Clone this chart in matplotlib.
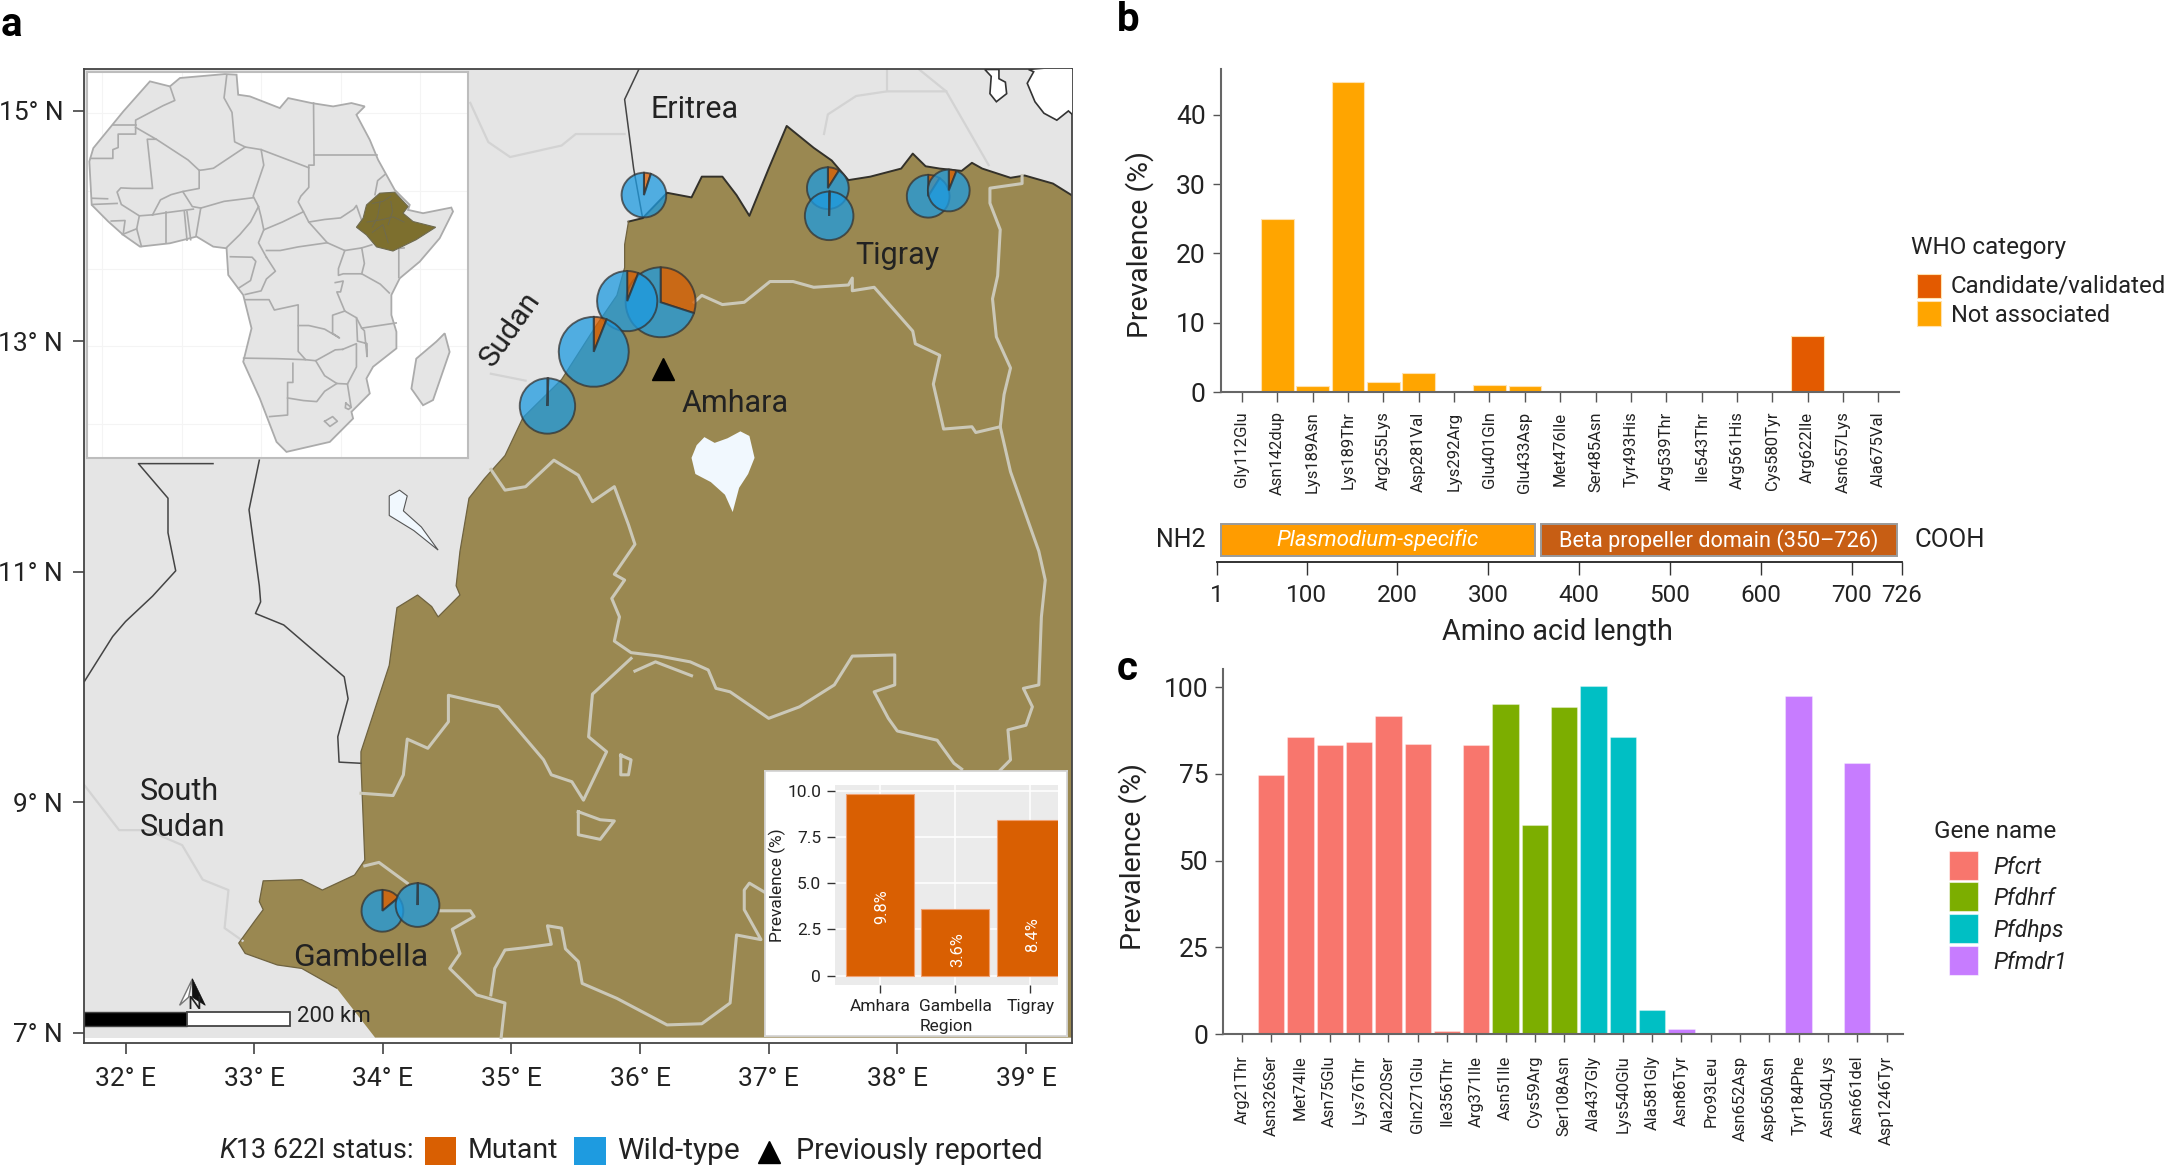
import matplotlib
matplotlib.use("Agg")
import matplotlib.pyplot as plt
from matplotlib.patches import Polygon, Rectangle

plt.rcParams['font.family'] = ['Roboto', 'DejaVu Sans']
plt.rcParams['mathtext.fontset'] = 'custom'
plt.rcParams['mathtext.it'] = 'Roboto:italic'
plt.rcParams['mathtext.rm'] = 'Roboto'
W, H = 2169, 1166
LAND, BROWN, LINE = '#E5E5E5', '#9A8851', '#CBC8B8'
MUT, WT = '#D95F02', '#1E9BE0'
INK = '#222222'

# ---------- data ----------
mutations_b = ['Gly112Glu','Asn142dup','Lys189Asn','Lys189Thr','Arg255Lys','Asp281Val','Lys292Arg','Glu401Gln','Glu433Asp','Met476Ile','Ser485Asn','Tyr493His','Arg539Thr','Ile543Thr','Arg561His','Cys580Tyr','Arg622Ile','Asn657Lys','Ala675Val']
prevalence_b = [0,24.9,0.9,44.7,1.4,2.8,0,1.0,0.9,0,0,0,0,0,0,0,8.15,0,0]
category_b = ['n']*16 + ['c'] + ['n']*2
who_colors = {'c':'#E35A00','n':'#FFA500'}

mutations_c = ['Arg21Thr','Asn326Ser','Met74Ile','Asn75Glu','Lys76Thr','Ala220Ser','Gln271Glu','Ile356Thr','Arg371Ile','Asn51Ile','Cys59Arg','Ser108Asn','Ala437Gly','Lys540Glu','Ala581Gly','Asn86Tyr','Pro93Leu','Asn652Asp','Asp650Asn','Tyr184Phe','Asn504Lys','Asn661del','Asp1246Tyr']
prevalence_c = [0.1,74.6,85.5,83.4,84.1,91.7,83.7,0.8,83.2,95.2,60.1,94.2,100.4,85.7,6.9,1.4,0.1,0.1,0.1,97.3,0.4,78.2,0]
gene_c = ['Pfcrt']*9 + ['Pfdhrf']*3 + ['Pfdhps']*3 + ['Pfmdr1']*8
gene_colors = {'Pfcrt':'#F8766D','Pfdhrf':'#7CAE00','Pfdhps':'#00BFC4','Pfmdr1':'#C77CFF'}

regions = ['Amhara','Gambella','Tigray']
region_prev = [9.8,3.6,8.4]
region_label_y = [3.7,1.4,2.2]

# sites: lon, lat, mutant share %, pie radius in px
pie_lon = [36.03,37.46,37.47,38.24,38.40,36.16,35.90,35.64,35.28,33.997,34.27]
pie_lat = [14.27,14.33,14.09,14.26,14.31,13.34,13.35,12.91,12.44,8.06,8.11]
pie_mut = [5,9,0.5,9,6,30,6,6,0.5,14,0.3]
pie_rad = [23,21.5,25,22,21.5,36,31,36,28.5,21.5,22.5]
reported_lon, reported_lat = [36.18],[12.76]

eth_lon = [39.354,39.21,38.99,38.88,38.66,38.58,38.50,38.33,38.22,38.12,38.03,37.79,37.62,37.49,37.35,37.14,37.0,36.85,36.75,36.64,36.48,36.40,36.21,36.02,35.91,35.88,35.88,35.82,35.66,35.39,35.09,34.95,34.79,34.67,34.60,34.57,34.60,34.43,34.38,34.27,34.11,34.05,33.83,33.83,33.86,33.78,33.53,33.37,33.07,33.04,33.07,33.01,32.88,32.93,33.18,33.37,33.64,33.94]
eth_lat = [14.27,14.37,14.44,14.42,14.50,14.55,14.48,14.50,14.52,14.63,14.50,14.43,14.40,14.57,14.68,14.87,14.50,14.09,14.27,14.43,14.43,14.25,14.29,14.07,14.04,13.84,13.64,13.40,13.14,12.67,12.34,12.01,11.81,11.64,11.18,10.88,10.80,10.61,10.70,10.80,10.69,10.19,9.44,9.34,8.50,8.37,8.24,8.33,8.32,8.14,8.07,7.98,7.78,7.69,7.59,7.56,7.39,6.96]

region_lines = [
 [(36.42,13.34),(36.48,13.40),(36.64,13.32),(36.81,13.34),(37.01,13.52),(37.19,13.52),(37.35,13.47),(37.62,13.49),(37.65,13.55),(37.65,13.44),(37.82,13.47),(38.12,13.09),(38.14,12.98),(38.33,12.88),(38.28,12.63),(38.36,12.24),(38.58,12.26),(38.61,12.21),(38.80,12.26),(38.88,11.87),(39.10,11.18),(39.15,10.93),(39.12,10.61),(39.10,10.02),(38.98,9.99),(39.05,9.83),(39.0,9.67),(38.86,9.63),(38.88,9.37),(38.8,9.28)],
 [(38.80,12.26),(38.83,12.54),(38.88,12.77),(38.77,13.04),(38.74,13.37),(38.78,13.57),(38.80,13.97),(38.72,14.20),(38.72,14.33),(38.97,14.37),(38.97,14.44)],
 [(34.84,11.89),(34.95,11.71),(35.11,11.74),(35.33,11.97),(35.52,11.84),(35.63,11.61),(35.80,11.74),(35.91,11.41),(35.96,11.24),(35.80,10.98),(35.88,10.93),(35.78,10.77),(35.84,10.61),(35.80,10.40),(35.93,10.30),(36.15,10.27),(36.39,10.22),(36.53,10.15),(36.59,9.99),(36.70,9.96),(37.0,9.73),(37.24,9.83),(37.51,10.02),(37.65,10.27),(37.98,10.28),(37.98,10.02),(37.82,9.96),(37.93,9.73),(38.0,9.62),(38.31,9.54),(38.44,9.34),(38.5,9.29)],
 [(35.93,10.25),(35.63,9.94),(35.60,9.57),(35.74,9.44),(35.56,9.02),(35.47,9.18),(35.31,9.24),(35.25,9.37),(34.90,9.83),(34.51,9.93),(34.51,9.70),(34.35,9.47),(34.19,9.55),(34.16,9.24),(34.08,9.06),(33.83,9.08)],
 [(35.96,10.14),(36.12,10.22),(36.40,10.10)],
 [(33.86,8.45),(33.97,8.48),(34.19,8.30)],
 [(34.45,8.06),(34.68,8.06),(34.71,8.01),(34.54,7.90),(34.60,7.69),(34.52,7.56),(34.73,7.33),(34.95,7.26),(34.92,6.96)],
 [(34.84,7.33),(34.87,7.56),(34.95,7.72),(35.11,7.74),(35.31,7.77),(35.28,7.93),(35.39,7.91),(35.42,7.73),(35.52,7.62),(35.55,7.43),(35.82,7.30),(36.21,7.07),(36.48,7.08),(36.70,7.26),(36.75,7.85),(36.94,7.81),(36.81,8.07),(36.81,8.24),(36.85,8.30),(36.97,8.22)],
 [(35.52,8.92),(35.69,8.85),(35.80,8.84),(35.69,8.68),(35.52,8.72),(35.52,8.92)],
 [(35.85,9.41),(35.93,9.37),(35.91,9.24),(35.85,9.24),(35.85,9.41)],
]
country_lines = [
 [(35.99,15.36),(35.88,15.10),(35.95,14.50),(36.02,14.07)],
 [(32.68,11.94),(32.10,11.94),(32.33,11.64),(32.33,11.34),(32.39,11.01),(32.21,10.79),(32.0,10.57),(31.9,10.44),(31.68,10.05)],
 [(33.04,11.97),(32.96,11.54),(33.04,10.88),(33.05,10.74),(33.01,10.64),(33.23,10.54),(33.70,10.09),(33.73,9.90),(33.65,9.57),(33.66,9.35),(33.83,9.34)],
]
faint_lines = [
 [(34.68,15.07),(34.82,14.73),(34.99,14.60),(35.39,14.70),(35.50,14.80),(35.88,14.80)],
 [(34.84,12.72),(35.11,12.66)],
 [(37.43,14.80),(37.46,14.97),(37.68,15.13),(37.92,15.17),(38.38,15.17)],
 [(37.92,15.36),(37.92,15.17)],
 [(38.17,15.36),(38.38,15.17),(38.71,14.53)],
 [(31.68,9.15),(31.95,8.76),(32.17,8.76),(32.44,8.63),(32.60,8.33),(32.80,8.24),(32.77,7.91),(32.91,7.80)],
]
lake_tana = [(36.40,11.99),(36.44,12.10),(36.50,12.17),(36.58,12.12),(36.68,12.16),(36.78,12.22),(36.85,12.18),(36.89,11.99),(36.84,11.85),(36.77,11.73),(36.72,11.52),(36.66,11.67),(36.55,11.78),(36.43,11.85)]
lake_small = [(34.05,11.66),(34.13,11.71),(34.19,11.66),(34.16,11.53),(34.30,11.39),(34.43,11.19),(34.24,11.36),(34.05,11.49)]
sea_bay = [(38.68,15.36),(38.73,15.30),(38.72,15.15),(38.77,15.08),(38.85,15.15),(38.84,15.25),(38.79,15.28),(38.79,15.36)]
red_sea = [(39.02,15.36),(39.06,15.34),(39.01,15.24),(39.07,15.08),(39.14,14.98),(39.24,14.92),(39.33,15.0),(39.36,14.97),(39.45,15.0),(39.45,15.4)]

africa = [(8.16,37.6),(10.36,37.48),(10.67,33.61),(12.87,33.29),(18.53,31.03),(20.11,32.96),(24.51,32.0),(28.6,31.35),(32.06,32.0),(34.57,31.35),(33.0,29.74),(35.52,24.9),(37.09,21.03),(38.66,18.13),(40.23,15.22),(43.06,12.32),(42.75,11.35),(45.58,10.71),(50.92,11.8),(51.24,11.03),(48.72,5.87),(44.95,1.35),(41.18,-1.87),(39.6,-5.1),(39.6,-8.97),(40.55,-12.2),(40.55,-15.42),(36.14,-18.97),(34.89,-21.23),(35.52,-24.13),(32.06,-27.68),(32.37,-28.97),(27.97,-33.49),(19.79,-35.42),(17.91,-33.49),(14.76,-25.1),(11.62,-18.0),(13.19,-11.55),(11.62,-5.1),(8.79,-1.23),(8.47,3.93),(5.96,4.25),(2.81,6.19),(-2.22,4.9),(-7.88,4.25),(-11.03,6.51),(-13.86,9.09),(-17.0,12.32),(-17.44,20.71),(-16.69,23.29),(-11.03,30.38),(-6.0,36.19),(-2.22,35.22),(-0.33,36.84)]
madagascar = [(49.67,-12.5),(50.6,-16.1),(47.47,-25.4),(45.58,-26.4),(43.38,-23.2),(44.3,-17.4),(48.1,-14.1)]
ethiopia = [(37.4,14.58),(40.23,14.77),(42.75,12.0),(41.8,10.7),(43.7,9.1),(47.97,8.0),(44.3,5.6),(39.9,3.4),(36.8,4.2),(34.9,6.5),(33,8),(34.26,9.74),(34.9,12.3)]
eth_inner = [[(36,12.6),(38,13),(39.5,14)],[(35,9),(38,9.5),(40,10),(42,9)],[(36,7),(38,8.5),(39,5)],[(37.5,13),(37,10),(36,8)],[(39.5,13),(39.8,11),(39,8.5)]]
borders = [
 [(-2.2,35.2),(-1.3,32.5),(-3.5,31.5),(-8.7,28.7),(-8.7,26),(-12,26),(-12,23.4),(-13,23),(-13,21.3),(-17.2,21.3)],
 [(-13,27.7),(-8.7,27.7)],
 [(-8.7,27.3),(-4.8,25),(-6.5,25),(-5.5,15.5),(-9.3,15.5),(-11.5,15.6),(-12.2,14.8),(-11.4,12.4),(-8,10.2),(-5.5,10.4)],
 [(-4.8,25),(1.2,21),(3.3,19),(4.2,19.1),(6,19.4),(12,23.5),(15,23),(24,19.5),(24,15.7),(22.5,14),(22,12.9),(23,11),(19,9),(15.5,7.5),(14.5,5),(16,2.2)],
 [(8.5,37.3),(8,33),(9.5,30.2),(10,24.5),(12,23.5)],
 [(24.9,32),(25,20),(24,20),(24,19.5)],[(25,22),(36.9,22)],
 [(15,23),(15.5,20),(13.5,14),(14.5,12),(15,10),(15.5,7.5)],
 [(13.5,13.7),(8,13),(3.6,11.7),(2.7,6.3)],
 [(3.3,19),(3.3,15.5),(0.2,14.9),(2,12),(3.6,11.7)],
 [(-5.5,10.4),(-3,10.8),(2.2,11.5)],[(0.2,14.9),(-2,14.3),(-4,13.3),(-5.5,10.4)],
 [(14.5,12),(13,9),(11,6.6),(8.5,4.1)],
 [(1,11),(1.7,5.6)],[(0.5,11),(1,5.5)],[(-2.9,11),(-2.9,4.9)],
 [(-7.6,4.3),(-8.5,7.7),(-8,10.2)],[(-11.2,6.6),(-8.5,7.7)],[(-13.3,9.2),(-10.7,9.3),(-11,7)],[(-12.2,12.6),(-16.9,12.4)],[(-16.9,13.6),(-14,13.5)],
 [(23,11),(24,9),(27.5,5)],[(24,9),(27,9.5),(30,9.8),(32.5,11.5),(33,12.2),(34,9.3)],[(36.5,14.3),(37,17),(38.4,18.2)],
 [(16,3.5),(18.6,3.5),(22,4.2),(27.5,5),(30.8,3.5),(34,4),(35.9,4.6)],[(42,4),(41,3.9),(41,-1.7)],[(34,4),(34.5,1),(34,-1)],
 [(30.8,3.5),(29.6,0),(29.6,-1.3),(30.5,-1),(34,-1),(37.5,-3),(39.2,-4.7)],[(29,-2.7),(30.5,-2.4),(30,-4.5),(29.3,-4.5),(30.8,-8.2),(33,-9.5),(34,-11.5),(40.5,-10.5)],
 [(33,-9.5),(33.2,-14),(35,-14.5),(35,-17),(34.5,-12),(34,-11.5)],[(30.4,-15.6),(33,-14.5),(33,-19),(31.3,-22.3),(32,-26.8)],
 [(30.8,-8.2),(28.5,-9),(28.5,-12.5),(29.8,-13.4),(27,-11.7),(24,-11),(22,-11),(22,-13),(22,-16),(23.4,-17.6),(18,-17.4),(11.7,-17.3)],
 [(12,-6),(16.5,-6),(17.5,-8),(22,-7),(22,-11)],
 [(23.4,-17.6),(25.3,-17.8),(29,-15.7),(30.4,-15.6)],[(25.3,-17.8),(27,-20.7),(29.3,-22.2),(31.3,-22.3)],
 [(21,-18.3),(21,-22),(20,-22),(20,-28.3),(16.6,-28.6)],[(20,-25),(23,-25.5),(25.5,-25.7),(27,-23.7),(29.3,-22.2)],
 [(27,-29.5),(28.5,-28.6),(29.4,-29.5),(28,-30.5),(27,-29.5)],[(31,-26),(32,-26.8),(31.5,-27.2),(30.9,-26.9),(31,-26)],
 [(9.2,2.3),(13.3,2.2),(14,1.4),(13,-2.3),(10.7,-3.8)],[(16,2.2),(17.7,-0.5),(16,-2),(15,-4.3),(12,-5)],
]

lon_ticks = [32,33,34,35,36,37,38,39]
lat_ticks = [7,9,11,13,15]
aa_ticks = [1,100,200,300,400,500,600,700,755]
aa_labels = ['1','100','200','300','400','500','600','700','726']
domain_start = [6,358]
domain_end = [351,750]
domain_names = ['Plasmodium-specific','Beta propeller domain (350\u2013726)']

# ---------- helpers ----------
fig = plt.figure(figsize=(W/100, H/100), dpi=100)
def axpx(x0, y0, x1, y1, **kw):
    return fig.add_axes([x0/W, 1-y1/H, (x1-x0)/W, (y1-y0)/H], **kw)
def T(x, y, s, fs=21, ha='left', va='center', **kw):
    kw.setdefault('color', INK)
    return fig.text(x/W, 1-y/H, s, fontsize=fs, ha=ha, va=va, **kw)
def xy(pts):
    return [p[0] for p in pts], [p[1] for p in pts]

# ---------- panel a map ----------
ax = axpx(84, 69, 1072, 1043)
ax.set_xlim(31.677, 39.358); ax.set_ylim(6.913, 15.364)
ax.add_patch(Rectangle((31.6, 6.96), 8, 8.5, fc=LAND, ec='none', zorder=0))
ax.add_patch(Polygon(list(zip(eth_lon, eth_lat)) + [(39.5, 6.96), (39.5, 14.27)], fc=BROWN, ec='none', zorder=1))
ax.plot(eth_lon[:25], eth_lat[:25], color='#33312A', lw=1.4, zorder=2)
ax.plot(eth_lon[24:-1], eth_lat[24:-1], color='#6F6340', lw=.9, zorder=2)
for l in faint_lines: ax.plot(*xy(l), color='#D3D3D3', lw=1.6, zorder=1)
for l in country_lines: ax.plot(*xy(l), color='#444444', lw=1.1, zorder=1)
for l in region_lines: ax.plot(*xy(l), color=LINE, lw=2.2, zorder=2)
ax.add_patch(Polygon(lake_tana, fc='#F1F8FE', ec='none', zorder=3))
ax.add_patch(Polygon(lake_small, fc='#F1F8FE', ec='#555555', lw=.8, zorder=3))
ax.add_patch(Polygon(sea_bay, fc='white', ec='#333333', lw=1.2, zorder=3))
ax.add_patch(Polygon(red_sea, fc='white', ec='#333333', lw=1.2, zorder=3))
ax.plot(reported_lon, reported_lat, '^', color='black', ms=16, zorder=9)
ax.set_xticks(lon_ticks, [f'{v}\u00b0 E' for v in lon_ticks])
ax.set_yticks(lat_ticks, [f'{v}\u00b0 N' for v in lat_ticks])
ax.tick_params(length=8, width=1.1, color='#333333', labelsize=19, pad=7, labelcolor=INK)
ax.tick_params(axis='x', pad=9)
for s in ax.spines.values():
    s.set_color('#444444'); s.set_linewidth(1.3)
for lo, la_, m, r in zip(pie_lon, pie_lat, pie_mut, pie_rad):
    w, h = 2*r/128.6, 2*r/115.25
    pa = ax.inset_axes([lo-w/2, la_-h/2, w, h], transform=ax.transData, zorder=5)
    pa.pie([m, 100-m], colors=[MUT, WT], startangle=90, counterclock=False,
           wedgeprops=dict(alpha=.75, edgecolor='#333333', linewidth=1.4))
    pa.set_xlim(-1.03, 1.03); pa.set_ylim(-1.03, 1.03); pa.set_aspect('auto')
    pa.patch.set_visible(False)

# scale bar and north arrow
ax.add_patch(Rectangle((31.677, 7.06), 0.80, 0.125, fc='black', ec='#444444', lw=1, zorder=6))
ax.add_patch(Rectangle((32.477, 7.06), 0.80, 0.125, fc='white', ec='#444444', lw=1.3, zorder=6))
ax.add_patch(Polygon([(32.52,7.47),(32.42,7.24),(32.49,7.31)], fc='white', ec='#777777', lw=1, zorder=6))
ax.add_patch(Polygon([(32.52,7.47),(32.62,7.24),(32.52,7.31)], fc='#111111', ec='#111111', lw=.5, zorder=6))
T(297, 1017, '200 km', fs=16)
T(194, 1004, 'N', fs=14, ha='center')

for x, y, s, fs in [(695,109,'Eritrea',22),(897,255,'Tigray',22),(735,404,'Amhara',22),(361,957,'Gambella',23)]:
    T(x, y, s, fs=fs, ha='center')
T(140, 792, 'South', fs=22); T(140, 828, 'Sudan', fs=22)
T(510, 329, 'Sudan', fs=21.5, ha='center', rotation=55, rotation_mode='anchor')

# Africa inset
ia = axpx(86.7, 72, 468, 458)
ia.set_xlim(-17.94, 54.07); ia.set_ylim(-36.6, 38.0)
ia.set_facecolor('white')
for v in [-15,0,15,30,45]: ia.axvline(v, color='#F4F4F4', lw=.8, zorder=0)
for v in [-30,-15,0,15,30]: ia.axhline(v, color='#F4F4F4', lw=.8, zorder=0)
ia.add_patch(Polygon(africa, fc=LAND, ec='#ABABAB', lw=1.3, zorder=1))
ia.add_patch(Polygon(madagascar, fc=LAND, ec='#ABABAB', lw=1.3, zorder=1))
for l in borders: ia.plot(*xy(l), color='#ABABAB', lw=1.2, zorder=2)
ia.add_patch(Polygon(ethiopia, fc='#7D6F2E', ec='#6E6A50', lw=.8, zorder=3))
for l in eth_inner: ia.plot(*xy(l), color='#6E6A50', lw=.7, zorder=4)
ia.set_xticks([]); ia.set_yticks([])
for s in ia.spines.values():
    s.set_color('#BDBDBD'); s.set_linewidth(1.5)

# prevalence inset
box = axpx(765, 770.7, 1067, 1036)
box.set_xticks([]); box.set_yticks([]); box.set_facecolor('white')
for s in box.spines.values():
    s.set_color('#D5D5D5'); s.set_linewidth(1.3)
bx = axpx(835, 785, 1058.3, 985)
bx.set_facecolor('#EBEBEB')
bx.set_xlim(-0.598, 2.37); bx.set_ylim(-0.51, 10.3)
bx.grid(True, color='white', lw=1.1); bx.set_axisbelow(True)
bx.bar(range(3), region_prev, width=.9, color=MUT, edgecolor='#F0A070', lw=.8)
for i, (v, yl) in enumerate(zip(region_prev, region_label_y)):
    bx.text(i+.03, yl, f'{v}%', rotation=90, color='white', fontsize=11.8, ha='center', va='center')
bx.set_xticks(range(3), regions); bx.set_yticks([0,2.5,5,7.5,10], ['0','2.5','5.0','7.5','10.0'])
bx.tick_params(length=6, width=1, color='#333333', labelsize=12.5, labelcolor=INK, pad=4)
bx.set_xlabel('Region', fontsize=12.5, color=INK, labelpad=4)
bx.set_ylabel('Prevalence (%)', fontsize=12.5, color=INK, labelpad=1)
for s in bx.spines.values(): s.set_visible(False)

# bottom legend
T(219, 1151, '$\\mathit{K13}$ 622I status:', fs=19.4)
la = axpx(0, 0, W, H); la.set_xlim(0, W); la.set_ylim(H, 0); la.axis('off'); la.patch.set_visible(False)
la.add_patch(Rectangle((424.6,1137),31.4,28,fc=MUT,ec='none'))
la.add_patch(Rectangle((574,1137),32,28,fc=WT,ec='none'))
la.plot([769],[1152],'^',color='black',ms=16)
T(468,1151,'Mutant',fs=20.5); T(617.5,1151,'Wild-type',fs=21.5); T(796,1151,'Previously reported',fs=20.7)
T(1, 25, 'a', fs=29, fontweight='bold', color='black')
T(1117, 20, 'b', fs=29, fontweight='bold', color='black')
T(1117, 669, 'c', fs=29, fontweight='bold', color='black')

# ---------- panel b ----------
b = axpx(1221, 69.4, 1899, 392)
b.set_xlim(-0.59, 18.58); b.set_ylim(0, 46.55)
b.bar(range(19), prevalence_b, width=.92, color=[who_colors[c] for c in category_b], edgecolor='#FFE2B0', lw=.8)
b.set_xticks(range(19), mutations_b, rotation=90)
b.set_yticks([0,10,20,30,40])
b.tick_params(axis='x', length=7, width=1, color='#555555', labelsize=12, pad=7, labelcolor=INK)
b.tick_params(axis='y', length=6, width=1, color='#555555', labelsize=19, pad=5, labelcolor=INK)
b.set_ylabel('Prevalence (%)', fontsize=20.5, color=INK)
b.yaxis.set_label_coords((1154-1221)/678, .456)
for s in ['top','right']: b.spines[s].set_visible(False)
for s in ['left','bottom']:
    b.spines[s].set_color('#666666'); b.spines[s].set_linewidth(1.5)

# domain track
d = axpx(1216.6, 520, 1901.7, 562)
d.set_xlim(1, 755); d.set_ylim(0, 1)
for st, en, col, name, style, fs in zip(domain_start, domain_end, ['#FF9C00','#C75E14'], domain_names, ['italic','normal'], [16,15.6]):
    d.add_patch(Rectangle((st, .15), en-st, .75, fc=col, ec='#9A9A9A', lw=1.4))
    d.text((st+en)/2, .52, name, color='white', fontsize=fs, ha='center', va='center', fontstyle=style)
d.set_xticks(aa_ticks, aa_labels)
d.tick_params(axis='x', length=9, width=1, color='#333333', labelsize=17.5, pad=7, labelcolor=INK)
d.set_yticks([]); d.patch.set_visible(False)
for s in ['top','left','right']: d.spines[s].set_visible(False)
d.spines['bottom'].set_color('#222222'); d.spines['bottom'].set_linewidth(1.3)
T(1205, 540, 'NH2', fs=18, ha='right'); T(1914, 540, 'COOH', fs=18.5)
T(1557, 632, 'Amino acid length', fs=20.7, ha='center')

# who legend
T(1911, 248, 'WHO category', fs=17.5)
la.add_patch(Rectangle((1917,273.5),24,24.5,fc=who_colors['c'],ec='#FFE2B0',lw=.8))
la.add_patch(Rectangle((1917,300.5),24,25.5,fc=who_colors['n'],ec='#FFE2B0',lw=.8))
T(1951, 286, 'Candidate/validated', fs=17.3); T(1951, 315, 'Not associated', fs=17)

# ---------- panel c ----------
c = axpx(1223.4, 669, 1903, 1034)
c.set_xlim(-0.63, 22.56); c.set_ylim(0, 105.2)
c.bar(range(23), prevalence_c, width=.9, color=[gene_colors[g] for g in gene_c], edgecolor='#FFFFFF55', lw=.8)
c.set_xticks(range(23), mutations_c, rotation=90)
c.set_yticks([0,25,50,75,100])
c.tick_params(axis='x', length=6, width=1, color='#555555', labelsize=12, pad=9.5, labelcolor=INK)
c.tick_params(axis='y', length=6, width=1, color='#555555', labelsize=19, pad=5, labelcolor=INK)
c.set_ylabel('Prevalence (%)', fontsize=20.5, color=INK)
c.yaxis.set_label_coords((1147-1223.4)/679.6, .485)
for s in ['top','right']: c.spines[s].set_visible(False)
for s in ['left','bottom']:
    c.spines[s].set_color('#666666'); c.spines[s].set_linewidth(1.5)

T(1934, 831, 'Gene name', fs=17.5)
for g, y0, y1 in zip(gene_colors, [851,882,914,946], [880,911,943,975]):
    la.add_patch(Rectangle((1949,y0),29,y1-y0,fc=gene_colors[g],ec='#FFFFFF88',lw=.8))
    T(1993, (y0+y1)/2+2, g, fs=16.5, fontstyle='italic')

fig.savefig('out.png', dpi=100)
